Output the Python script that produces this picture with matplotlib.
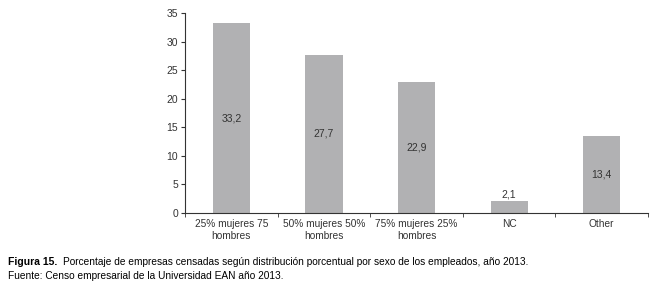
import matplotlib
matplotlib.use("Agg")
import matplotlib.pyplot as plt
import numpy as np

plt.rcParams['font.family'] = ['Liberation Sans', 'DejaVu Sans']

categories = ["25% mujeres 75\nhombres", "50% mujeres 50%\nhombres", "75% mujeres 25%\nhombres", "NC", "Other"]
values = [33.2, 27.7, 22.9, 2.1, 13.4]
labels = ["33,2", "27,7", "22,9", "2,1", "13,4"]
yticks = [0, 5, 10, 15, 20, 25, 30, 35]

fig = plt.figure(figsize=(6.66, 2.84), dpi=100)
ax = fig.add_axes([0.278, 0.25, 0.695, 0.704])
x = np.arange(len(categories))
bars = ax.bar(x, values, width=0.4, color="#b1b1b3")
ax.set_xlim(-0.5, len(categories) - 0.5)
ax.set_ylim(0, 35)
ax.set_yticks(yticks)
ax.set_yticklabels([str(t) for t in yticks], fontsize=7.5, color="#333333")
ax.set_xticks(x)
ax.set_xticklabels(categories, fontsize=7.3, color="#333333", linespacing=1.25)
ax.tick_params(axis="x", length=0, pad=4)
ax.set_xticks(np.arange(-0.5, len(categories)), minor=True)
ax.tick_params(axis="x", which="minor", length=3, direction="out", color="#333333")
ax.tick_params(axis="y", length=3, direction="out", color="#333333", pad=2)
for s in ["top", "right"]:
    ax.spines[s].set_visible(False)
for s in ["left", "bottom"]:
    ax.spines[s].set_color("#333333")
    ax.spines[s].set_linewidth(0.8)

for xi, v, lab in zip(x, values, labels):
    if v < 5:
        ax.text(xi, v + 0.3, lab, ha="center", va="bottom", fontsize=7.5, color="#333333")
    else:
        ax.text(xi, v / 2, lab, ha="center", va="center", fontsize=7.5, color="#333333")

fam = ["Liberation Sans", "DejaVu Sans"]
fig.text(8 / 666, 1 - 262 / 284, "Figura 15.", fontsize=7.5, fontweight="bold", family=fam, va="center", ha="left")
fig.text(63 / 666, 1 - 262 / 284, "Porcentaje de empresas censadas según distribución porcentual por sexo de los empleados, año 2013.",
         fontsize=7.3, family=fam, va="center", ha="left")
fig.text(8 / 666, 1 - 276 / 284, "Fuente: Censo empresarial de la Universidad EAN año 2013.", fontsize=7.3, family=fam, va="center", ha="left")

fig.savefig("out.png", dpi=100)
